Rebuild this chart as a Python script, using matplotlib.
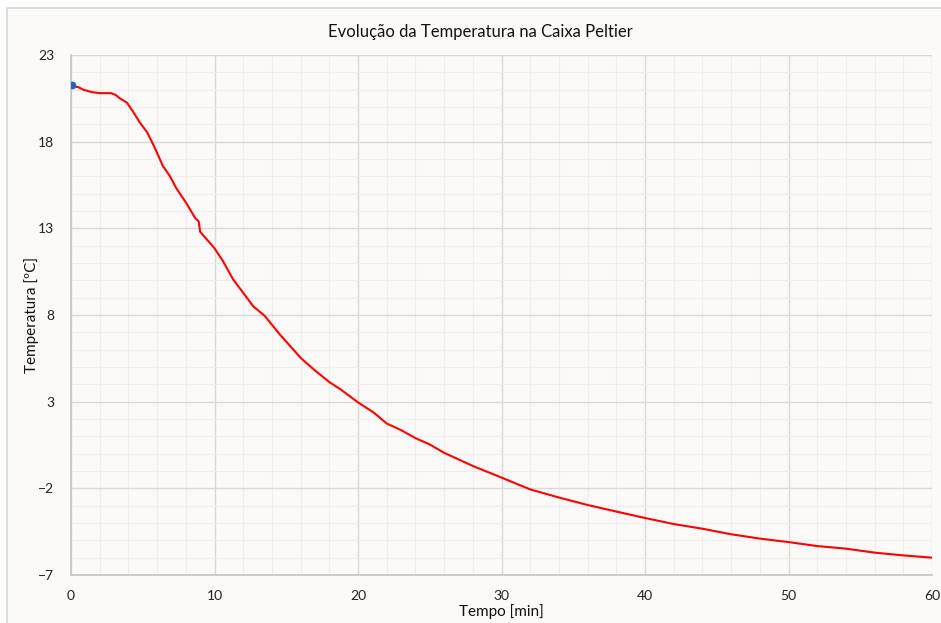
import matplotlib.pyplot as plt
from matplotlib.patches import Rectangle
from matplotlib.ticker import MultipleLocator

# values
tempo = [0.1, 0.5, 0.85, 1.45, 2.0, 2.8, 3.1, 3.4, 3.9, 4.35, 4.8, 5.3, 5.75,
         6.0, 6.4, 6.9, 7.35, 8.0, 8.65, 8.9, 9.0, 10.0, 10.6, 11.3, 12.0, 12.7,
         13.5, 14.56, 16.0, 16.9, 18.0, 18.75, 20.0, 21.1, 22.0, 23.0, 24.0, 25.0,
         26.0, 28.0, 30.0, 32.0, 34.0, 36.0, 38.0, 40.0, 42.0, 44.0, 46.0, 48.0,
         50.0, 52.0, 54.0, 56.0, 58.0, 60.0]
temperatura = [21.2, 21.15, 21.0, 20.86, 20.8, 20.8, 20.7, 20.5, 20.25, 19.7,
               19.1, 18.55, 17.8, 17.35, 16.6, 16.0, 15.3, 14.5, 13.6, 13.4, 12.8,
               11.85, 11.1, 10.05, 9.28, 8.5, 7.95, 6.87, 5.53, 4.87, 4.13, 3.73,
               2.96, 2.37, 1.74, 1.36, 0.9, 0.53, 0.05, -0.71, -1.38, -2.06, -2.53,
               -2.96, -3.34, -3.71, -4.06, -4.33, -4.65, -4.9, -5.1, -5.33, -5.48,
               -5.71, -5.87, -6.0]
ponto_inicial = (0.1, 21.25)

bg = '#fbfaf9'
plt.rcParams['font.family'] = ['Lato', 'DejaVu Sans']

fig = plt.figure(figsize=(9.41, 6.23), dpi=100, facecolor='white')
fig.patches.append(Rectangle((7 / 941, -0.1), 1.2, 1.1 - 8 / 623,
                             transform=fig.transFigure, facecolor=bg,
                             edgecolor='#d8d8d8', linewidth=1.2, zorder=-10))
ax = fig.add_axes([71 / 941, 48 / 623, 861 / 941, 520 / 623])
ax.set_zorder(5)
ax.set_facecolor(bg)

ax.plot(tempo, temperatura, color='#ff0000', linewidth=1.5, zorder=3)
ax.plot(*ponto_inicial, 'o', color='#2160c4', markersize=4.5, zorder=4)

ax.set_xlim(0, 60)
ax.set_ylim(-7, 23)
ax.xaxis.set_major_locator(MultipleLocator(10))
ax.xaxis.set_minor_locator(MultipleLocator(2))
ax.set_yticks([-7, -2, 3, 8, 13, 18, 23])
ax.yaxis.set_minor_locator(MultipleLocator(1))
ax.grid(which='major', color='#d9d9d9', linewidth=1.0)
ax.grid(which='minor', color='#efeeed', linewidth=0.8)
ax.set_axisbelow(True)
ax.tick_params(which='both', length=0, labelsize=10, colors='#222222')
ax.tick_params(axis='x', pad=11)
ax.tick_params(axis='y', pad=12)

for s in ['top', 'right']:
    ax.spines[s].set_visible(False)
for s in ['left', 'bottom']:
    ax.spines[s].set_color('#c4c4c4')
    ax.spines[s].set_linewidth(1.2)

fig.text(480 / 941, 1 - 32 / 623, 'Evolução da Temperatura na Caixa Peltier',
         fontsize=12, ha='center', va='center', color='#111111')
ax.set_xlabel('Tempo [min]', fontsize=11, labelpad=1, color='#111111')
ax.set_ylabel('Temperatura [ºC]', fontsize=11, color='#111111')
ax.yaxis.set_label_coords(-0.037, 0.5)

fig.savefig('out.png', dpi=100, facecolor='white')
